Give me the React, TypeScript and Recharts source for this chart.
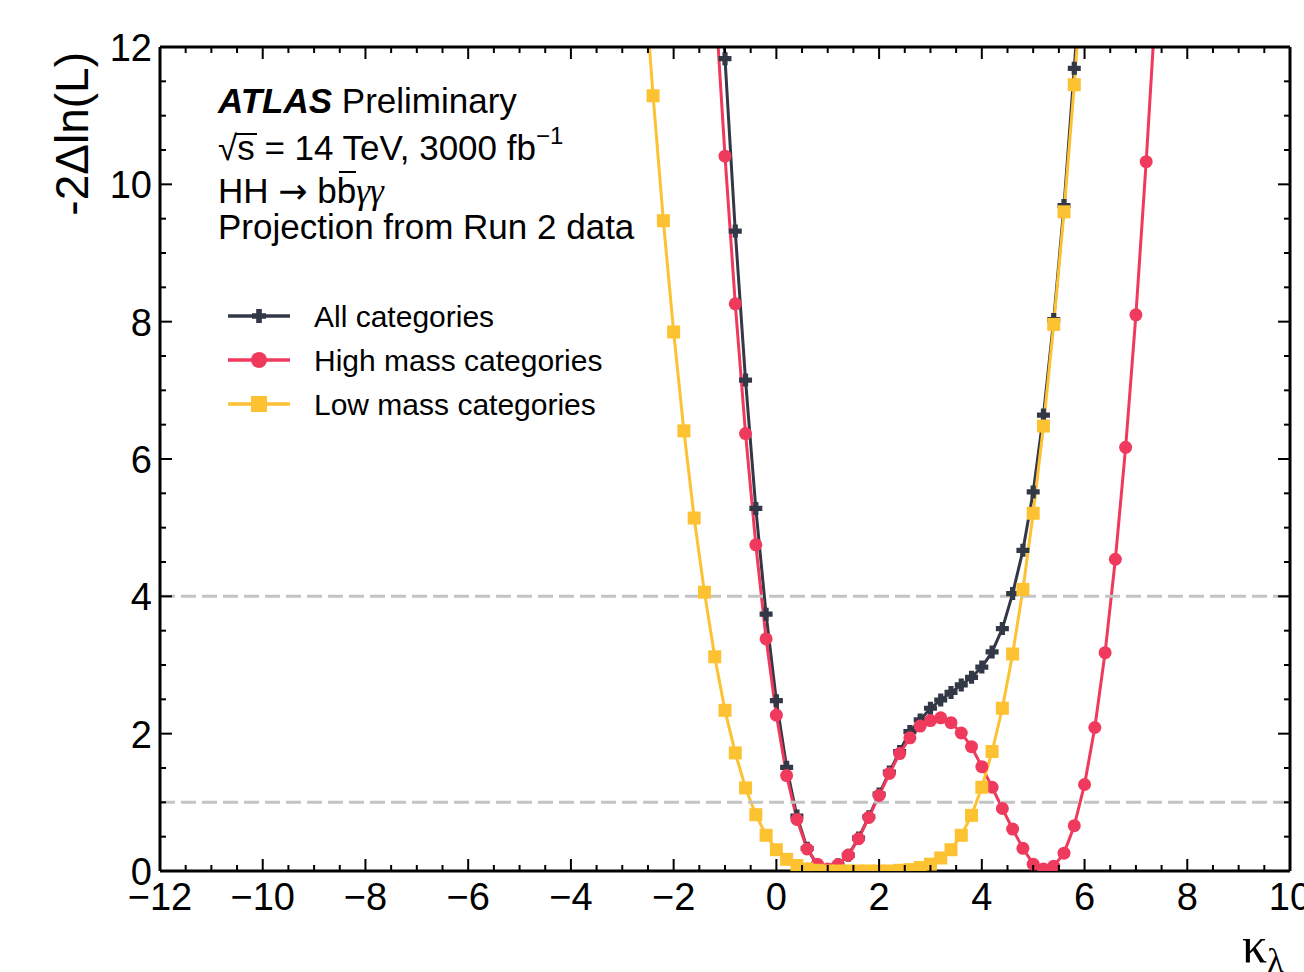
import React from "react";
import { Line, LineChart, ReferenceLine, XAxis, YAxis } from "recharts";

// kappa_lambda scan points
const allK = [
  -1.2, -1.0, -0.8, -0.6, -0.4, -0.2, 0.0, 0.2, 0.4, 0.6, 0.8, 1.0, 1.2, 1.4,
  1.6, 1.8, 2.0, 2.2, 2.4, 2.6, 2.8, 3.0, 3.2, 3.4, 3.6, 3.8, 4.0, 4.2, 4.4,
  4.6, 4.8, 5.0, 5.2, 5.4, 5.6, 5.8, 6.0,
];
const allNll = [
  14.7, 11.83, 9.32, 7.15, 5.28, 3.74, 2.48, 1.51, 0.8, 0.33, 0.08, 0.01, 0.09,
  0.23, 0.48, 0.79, 1.12, 1.44, 1.74, 2.03, 2.2, 2.37, 2.49, 2.6, 2.71, 2.82,
  2.97, 3.19, 3.53, 4.04, 4.67, 5.52, 6.64, 8.03, 9.69, 11.69, 13.8,
];

const highK = [
  -1.2, -1.0, -0.8, -0.6, -0.4, -0.2, 0.0, 0.2, 0.4, 0.6, 0.8, 1.0, 1.2, 1.4,
  1.6, 1.8, 2.0, 2.2, 2.4, 2.6, 2.8, 3.0, 3.2, 3.4, 3.6, 3.8, 4.0, 4.2, 4.4,
  4.6, 4.8, 5.0, 5.2, 5.4, 5.6, 5.8, 6.0, 6.2, 6.4, 6.6, 6.8, 7.0, 7.2, 7.4,
];
const highNll = [
  12.8, 10.41, 8.26, 6.37, 4.75, 3.38, 2.27, 1.39, 0.75, 0.32, 0.1, 0.03, 0.09,
  0.23, 0.47, 0.78, 1.1, 1.42, 1.71, 1.94, 2.11, 2.19, 2.23, 2.16, 2.01, 1.81,
  1.52, 1.22, 0.91, 0.61, 0.33, 0.1, 0.03, 0.07, 0.26, 0.66, 1.26, 2.09, 3.18,
  4.54, 6.17, 8.1, 10.33, 12.8,
];

const lowK = [
  -2.6, -2.4, -2.2, -2.0, -1.8, -1.6, -1.4, -1.2, -1.0, -0.8, -0.6, -0.4, -0.2,
  0.0, 0.2, 0.4, 0.6, 0.8, 1.0, 1.2, 1.4, 1.6, 1.8, 2.0, 2.2, 2.4, 2.6, 2.8,
  3.0, 3.2, 3.4, 3.6, 3.8, 4.0, 4.2, 4.4, 4.6, 4.8, 5.0, 5.2, 5.4, 5.6, 5.8,
  6.0,
];
const lowNll = [
  13.3, 11.29, 9.47, 7.85, 6.41, 5.14, 4.06, 3.12, 2.34, 1.72, 1.21, 0.82,
  0.52, 0.31, 0.17, 0.08, 0.03, 0.01, 0.0, 0.0, 0.0, 0.0, 0.0, 0.0, 0.0, 0.01,
  0.02, 0.05, 0.1, 0.19, 0.31, 0.52, 0.81, 1.22, 1.74, 2.37, 3.16, 4.1, 5.21,
  6.48, 7.96, 9.6, 11.45, 13.5,
];

const xMajorTicks = [-12, -10, -8, -6, -4, -2, 0, 2, 4, 6, 8, 10];
const yMajorTicks = [0, 2, 4, 6, 8, 10, 12];
const sigmaLines = [1, 4];

const seriesNames = ["All categories", "High mass categories", "Low mass categories"];

const allColor = "#323845";
const highColor = "#ef3a5d";
const lowColor = "#fdc232";
const sans = "'Liberation Sans', Arial, Helvetica, sans-serif";
const serif = "'Liberation Serif', 'DejaVu Serif', serif";

const withMinors = (majors: number[]) => {
  const out: number[] = [];
  majors.forEach((v, i) => {
    out.push(v);
    if (i < majors.length - 1) out.push(v + 0.5, v + 1, v + 1.5);
  });
  return out;
};
const xTicks = withMinors(xMajorTicks);
const yTicks = withMinors(yMajorTicks);

const toPoints = (ks: number[], vals: number[]) =>
  ks.map((k, i) => ({ k, v: vals[i] }));

const allData = toPoints(allK, allNll);
const highData = toPoints(highK, highNll);
const lowData = toPoints(lowK, lowNll);

const isMajor = (v: number) => Math.abs(v % 2) < 1e-6;
const fmt = (v: number) => (v < 0 ? `\u2212${Math.abs(v)}` : `${v}`);

function plusPath(cx: number, cy: number, s: number, t: number) {
  const a = s - t;
  return `M${cx - t},${cy - s}h${2 * t}v${a}h${a}v${2 * t}h${-a}v${a}h${-2 * t}v${-a}h${-a}v${-2 * t}h${a}z`;
}

function PlusDot(props: any) {
  const { cx, cy } = props;
  if (cx == null || cy == null) return <g />;
  return <path d={plusPath(cx, cy, 6.5, 2.6)} fill={allColor} />;
}

function CircleDot(props: any) {
  const { cx, cy } = props;
  if (cx == null || cy == null) return <g />;
  return <circle cx={cx} cy={cy} r={6.5} fill={highColor} />;
}

function SquareDot(props: any) {
  const { cx, cy } = props;
  if (cx == null || cy == null) return <g />;
  return <rect x={cx - 6.5} y={cy - 6.5} width={13} height={13} fill={lowColor} />;
}

function BottomTick({ x, y, payload }: any) {
  const major = isMajor(payload.value);
  return (
    <g>
      <line x1={x} x2={x} y1={y} y2={y - (major ? 12 : 6)} stroke="#000" strokeWidth={2} />
      {major && (
        <text x={x} y={y + 39} textAnchor="middle" fontSize={38} fontFamily={sans} fill="#000">
          {fmt(payload.value)}
        </text>
      )}
    </g>
  );
}

function TopTick({ x, y, payload }: any) {
  const major = isMajor(payload.value);
  return <line x1={x} x2={x} y1={y} y2={y + (major ? 12 : 6)} stroke="#000" strokeWidth={2} />;
}

function LeftTick({ x, y, payload }: any) {
  const major = isMajor(payload.value);
  return (
    <g>
      <line x1={x} x2={x + (major ? 12 : 6)} y1={y} y2={y} stroke="#000" strokeWidth={2} />
      {major && (
        <text x={x - 8} y={y + 14} textAnchor="end" fontSize={38} fontFamily={sans} fill="#000">
          {fmt(payload.value)}
        </text>
      )}
    </g>
  );
}

function RightTick({ x, y, payload }: any) {
  const major = isMajor(payload.value);
  return <line x1={x} x2={x - (major ? 12 : 6)} y1={y} y2={y} stroke="#000" strokeWidth={2} />;
}

function LegendRow({ y, label, color, marker }: any) {
  return (
    <g>
      <line x1={228} x2={290} y1={y} y2={y} stroke={color} strokeWidth={3.5} />
      {marker === "plus" && <path d={plusPath(259, y, 7, 2.8)} fill={color} />}
      {marker === "circle" && <circle cx={259} cy={y} r={8} fill={color} />}
      {marker === "square" && <rect x={251} y={y - 8} width={16} height={16} fill={color} />}
      <text x={314} y={y + 11} fontSize={30} fontFamily={sans} fill="#000">
        {label}
      </text>
    </g>
  );
}

function Annotations() {
  return (
    <svg
      width={1304}
      height={972}
      style={{ position: "absolute", left: 0, top: 0, pointerEvents: "none" }}
    >
      <text x={88} y={52} transform="rotate(-90, 88, 52)" textAnchor="end" fontSize={46} fontFamily={sans} fill="#000">
        -2Δln(L)
      </text>
      <text x={1242} y={962} fontSize={50} fontFamily={serif} fill="#000">
        κ<tspan fontSize={34} dy={10}>λ</tspan>
      </text>

      <text x={218} y={113} fontSize={35} fontFamily={sans} fill="#000">
        <tspan fontWeight="bold" fontStyle="italic">ATLAS</tspan> Preliminary
      </text>
      <text x={218} y={160} fontSize={35} fontFamily={sans} fill="#000">
        √s = 14 TeV, 3000 fb
        <tspan fontSize={24} dy={-16}>−1</tspan>
      </text>
      <line x1={236} x2={257} y1={134} y2={134} stroke="#000" strokeWidth={2} />
      <text x={218} y={203} fontSize={35} fontFamily={sans} fill="#000">
        HH <tspan fontFamily="'DejaVu Sans', sans-serif" fontSize={35}>→</tspan> bb
        <tspan fontFamily={serif} fontStyle="italic">γγ</tspan>
      </text>
      <line x1={339} x2={356} y1={172} y2={172} stroke="#000" strokeWidth={2} />
      <text x={218} y={239} fontSize={35} fontFamily={sans} fill="#000">
        Projection from Run 2 data
      </text>

      <LegendRow y={316} label={seriesNames[0]} color={allColor} marker="plus" />
      <LegendRow y={360} label={seriesNames[1]} color={highColor} marker="circle" />
      <LegendRow y={404} label={seriesNames[2]} color={lowColor} marker="square" />
    </svg>
  );
}

export default function App() {
  return (
    <div style={{ position: "absolute", left: 0, top: 0, width: 1304, height: 972, background: "#fff" }}>
      <LineChart width={1304} height={972} margin={{ top: 46, right: 13, bottom: 0, left: 0 }}>
        <XAxis
          xAxisId="x"
          dataKey="k"
          type="number"
          domain={[-12, 10]}
          ticks={xTicks}
          interval={0}
          height={101}
          tickSize={0}
          tickMargin={0}
          tickLine={false}
          axisLine={{ stroke: "#000", strokeWidth: 3 }}
          tick={BottomTick}
          allowDataOverflow
        />
        <XAxis
          xAxisId="top"
          orientation="top"
          dataKey="k"
          type="number"
          domain={[-12, 10]}
          ticks={xTicks}
          interval={0}
          height={1}
          tickSize={0}
          tickMargin={0}
          tickLine={false}
          axisLine={{ stroke: "#000", strokeWidth: 3 }}
          tick={TopTick}
          allowDataOverflow
        />
        <YAxis
          yAxisId="y"
          type="number"
          domain={[0, 12]}
          ticks={yTicks}
          interval={0}
          width={160}
          tickSize={0}
          tickMargin={0}
          tickLine={false}
          axisLine={{ stroke: "#000", strokeWidth: 3 }}
          tick={LeftTick}
          allowDataOverflow
        />
        <YAxis
          yAxisId="right"
          orientation="right"
          type="number"
          domain={[0, 12]}
          ticks={yTicks}
          interval={0}
          width={1}
          tickSize={0}
          tickMargin={0}
          tickLine={false}
          axisLine={{ stroke: "#000", strokeWidth: 3 }}
          tick={RightTick}
          allowDataOverflow
        />
        <Line
          xAxisId="x"
          yAxisId="y"
          data={allData}
          dataKey="v"
          name={seriesNames[0]}
          type="linear"
          stroke={allColor}
          strokeWidth={3}
          dot={PlusDot}
          activeDot={false}
          isAnimationActive={false}
        />
        <Line
          xAxisId="x"
          yAxisId="y"
          data={highData}
          dataKey="v"
          name={seriesNames[1]}
          type="linear"
          stroke={highColor}
          strokeWidth={3}
          dot={CircleDot}
          activeDot={false}
          isAnimationActive={false}
        />
        <Line
          xAxisId="x"
          yAxisId="y"
          data={lowData}
          dataKey="v"
          name={seriesNames[2]}
          type="linear"
          stroke={lowColor}
          strokeWidth={3}
          dot={SquareDot}
          activeDot={false}
          isAnimationActive={false}
        />
        {sigmaLines.map((v) => (
          <ReferenceLine
            key={v}
            xAxisId="x"
            yAxisId="y"
            y={v}
            stroke="#c4c4c4"
            strokeWidth={3}
            strokeDasharray="15 6"
          />
        ))}
      </LineChart>
      <Annotations />
    </div>
  );
}
